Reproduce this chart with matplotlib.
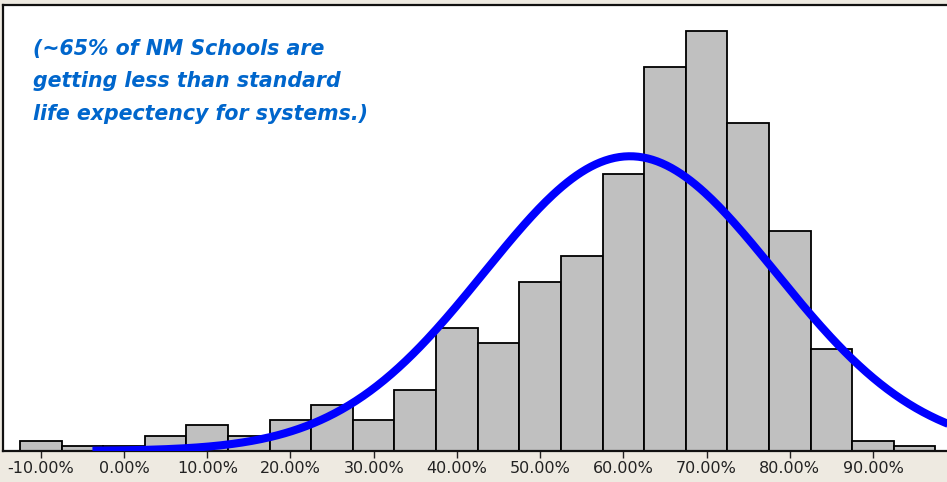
import numpy as np
import matplotlib
matplotlib.use("Agg")
import matplotlib.pyplot as plt
from matplotlib.ticker import FuncFormatter

# histogram bins (centre, in %) and counts
bin_centres = [-10, -5, 0, 5, 10, 15, 20, 25, 30, 35, 40, 45, 50, 55,
               60, 65, 70, 75, 80, 85, 90, 95]
counts = [2, 1, 1, 3, 5, 3, 6, 9, 6, 12, 24, 21, 33, 38,
          54, 75, 82, 64, 43, 20, 2, 1]
bin_width = 5

# fitted normal curve
fit_mean = 60.8
fit_sd = 17.5
fit_start = -3.8

tick_values = [-10, 0, 10, 20, 30, 40, 50, 60, 70, 80, 90]
note = "(~65% of NM Schools are\ngetting less than standard\nlife expectency for systems.)"

W, H = 947, 482
fig = plt.figure(figsize=(W / 100, H / 100), dpi=100)
fig.patch.set_facecolor("#EEEAE1")

x0 = 3 / W
y0 = 1 - 451 / H
ax = fig.add_axes([x0, y0, 1 - x0, (451 - 5) / H])
ax.set_facecolor("white")

ax.bar(bin_centres, counts, width=bin_width, color="#C0C0C0",
       edgecolor="black", linewidth=1.3, zorder=2)

n_total = sum(counts)
xs = np.linspace(fit_start, 110, 400)
ys = n_total * bin_width / (fit_sd * np.sqrt(2 * np.pi)) * \
    np.exp(-0.5 * ((xs - fit_mean) / fit_sd) ** 2)
ax.plot(xs, ys, color="#0000FF", linewidth=5.8, zorder=3,
        solid_capstyle="butt")

ax.set_xlim(-14.55, 98.9)
ax.set_ylim(0, 87.1)

ax.set_xticks(tick_values)
ax.xaxis.set_major_formatter(FuncFormatter(lambda v, p: f"{v:.2f}%"))
ax.tick_params(axis="x", direction="out", length=5, width=1, labelsize=11.5,
               pad=2, colors="#222222")
ax.set_yticks([])

for side in ["left", "top", "bottom"]:
    ax.spines[side].set_linewidth(1.6)
    ax.spines[side].set_color("#111111")
ax.spines["right"].set_visible(False)

ax.text(33 / W - x0, 1 - (39 - 5) / 446, note, transform=ax.transAxes,
        color="#0066CC", fontsize=14.8, fontweight="bold", fontstyle="italic",
        va="top", ha="left", linespacing=1.77, zorder=4)

fig.savefig("out.png", dpi=100, facecolor=fig.get_facecolor())
